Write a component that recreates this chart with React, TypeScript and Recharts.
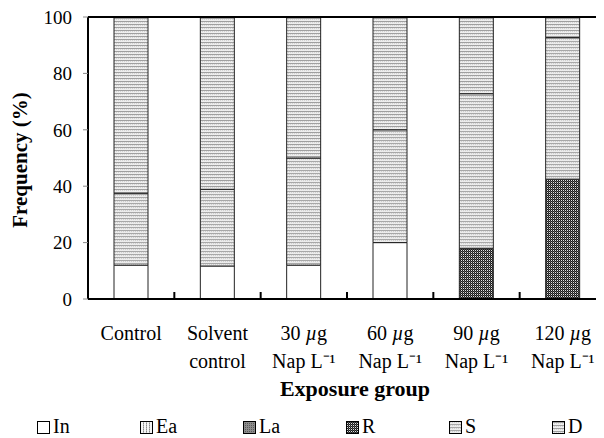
import React from 'react';
import { BarChart, Bar, XAxis, YAxis, ReferenceLine, Legend } from 'recharts';

const categories = ['Control', 'Solvent control', '30 µg Nap L⁻¹', '60 µg Nap L⁻¹', '90 µg Nap L⁻¹', '120 µg Nap L⁻¹'];
const tickLine1 = ['Control', 'Solvent', '30 µg', '60 µg', '90 µg', '120 µg'];
const tickLine2 = ['', 'control', 'Nap L⁻¹', 'Nap L⁻¹', 'Nap L⁻¹', 'Nap L⁻¹'];
const yTicks = [0, 20, 40, 60, 80, 100];

const seriesNames = ['In', 'Ea', 'La', 'R', 'S', 'D'];
const inVals = [12, 11.7, 12, 20, 0, 0];
const eaVals = [0, 0, 0, 0, 0, 0];
const laVals = [0, 0, 0, 0, 0, 0];
const rVals = [0, 0, 0, 0, 18, 42.5];
const sVals = [25.5, 27.2, 38, 40, 54.8, 50.2];
const dVals = [62.5, 61.1, 50, 40, 27.2, 7.3];

const data = categories.map((group, i) => ({
  group,
  In: inVals[i],
  Ea: eaVals[i],
  La: laVals[i],
  R: rVals[i],
  S: sVals[i],
  D: dVals[i],
}));

const FONT = 'Liberation Serif';
const CHART_W = 604;
const CHART_H = 430;
const MARGIN = { top: 9, right: 6, left: 0, bottom: 0 };
const Y_AXIS_W = 80;
const X_AXIS_H = 110;
const LEGEND_H = 29;
const PLOT_LEFT = MARGIN.left + Y_AXIS_W;
const PLOT_W = CHART_W - MARGIN.left - MARGIN.right - Y_AXIS_W;
const PLOT_BOTTOM = CHART_H - MARGIN.bottom - LEGEND_H - X_AXIS_H;

function PatternDef({ id, kind }: { id: string; kind: string }) {
  switch (kind) {
    case 'Ea':
      return (
        <pattern id={id} width={3} height={2} patternUnits="userSpaceOnUse">
          <rect width={3} height={2} fill="#f4f4f4" />
          <rect x={0} y={0} width={1} height={1} fill="#8a8a8a" />
          <rect x={0} y={1} width={1} height={1} fill="#b8b8b8" />
        </pattern>
      );
    case 'La':
      return (
        <pattern id={id} width={2} height={2} patternUnits="userSpaceOnUse">
          <rect width={2} height={2} fill="#8c8c8c" />
          <rect x={0} y={0} width={1} height={1} fill="#5a5a5a" />
        </pattern>
      );
    case 'R':
      return (
        <pattern id={id} width={2} height={2} patternUnits="userSpaceOnUse">
          <rect width={2} height={2} fill="#1a1a1a" />
          <rect x={1} y={0} width={1} height={1} fill="#e0e0e0" />
          <rect x={0} y={1} width={1} height={1} fill="#555" />
        </pattern>
      );
    case 'S':
      return (
        <pattern id={id} width={2} height={3} patternUnits="userSpaceOnUse">
          <rect width={2} height={3} fill="#ececec" />
          <rect x={0} y={0} width={2} height={1} fill="#a8a8a8" />
          <rect x={1} y={1} width={1} height={1} fill="#d0d0d0" />
        </pattern>
      );
    case 'D':
      return (
        <pattern id={id} width={2} height={3} patternUnits="userSpaceOnUse">
          <rect width={2} height={3} fill="#eeeeee" />
          <rect x={0} y={1} width={2} height={1} fill="#a0a0a0" />
          <rect x={0} y={2} width={1} height={1} fill="#d4d4d4" />
        </pattern>
      );
    default:
      return null;
  }
}

const fillFor = (kind: string, prefix: string) => (kind === 'In' ? '#ffffff' : `url(#${prefix}-${kind})`);

function XTick(props: any) {
  const { x, y, payload } = props;
  const idx = categories.indexOf(payload.value);
  const l1 = tickLine1[idx] || '';
  const l2 = tickLine2[idx] || '';
  const renderL1 = () => {
    const m = l1.indexOf('µ');
    if (m < 0) return l1;
    return (
      <>
        {l1.slice(0, m)}
        <tspan fontStyle="italic">µ</tspan>
        {l1.slice(m + 1)}
      </>
    );
  };
  return (
    <g transform={`translate(${x},${y})`}>
      <text x={0} y={41} textAnchor="middle" fontFamily={FONT} fontSize={20} fill="#000">
        {renderL1()}
      </text>
      {l2 ? (
        <text x={0} y={69} textAnchor="middle" fontFamily={FONT} fontSize={20} fill="#000">
          {l2}
        </text>
      ) : null}
    </g>
  );
}

function XLabel(props: any) {
  const vb = props.viewBox || { x: 80, y: 291, width: 518, height: 110 };
  return (
    <text
      x={vb.x + vb.width / 2 + 8}
      y={vb.y + 97}
      textAnchor="middle"
      fontFamily={FONT}
      fontSize={22}
      fontWeight="bold"
      fill="#000"
    >
      Exposure group
    </text>
  );
}

function YLabel(props: any) {
  const vb = props.viewBox || { x: 0, y: 9, width: 80, height: 282 };
  const cx = vb.x + 19;
  const cy = vb.y + vb.height / 2 + 2;
  return (
    <text
      x={cx}
      y={cy}
      transform={`rotate(-90, ${cx}, ${cy})`}
      textAnchor="middle"
      fontFamily={FONT}
      fontSize={21}
      fontWeight="bold"
      fill="#000"
    >
      Frequency (%)
    </text>
  );
}

function LegendContent() {
  return (
    <div
      style={{
        display: 'flex',
        alignItems: 'center',
        height: LEGEND_H,
        paddingLeft: 29,
        paddingTop: 4,
        boxSizing: 'border-box',
        fontFamily: FONT,
        fontSize: 20,
        color: '#000',
      }}
    >
      {seriesNames.map((name) => (
        <div key={name} style={{ width: 103, display: 'flex', alignItems: 'center', flex: '0 0 103px' }}>
          <svg width={13} height={13} style={{ marginRight: 3, marginTop: 3 }}>
            <defs>
              <PatternDef id={`lg-${name}`} kind={name} />
            </defs>
            <rect x={0.5} y={0.5} width={12} height={12} fill={fillFor(name, 'lg')} stroke="#000" strokeWidth={1} />
          </svg>
          <span style={{ lineHeight: '20px' }}>{name}</span>
        </div>
      ))}
    </div>
  );
}

const band = PLOT_W / categories.length;
const boundaryIdx = categories.slice(1).map((_, i) => i + 1);

export default function App() {
  return (
    <div style={{ width: 596, height: CHART_H, overflow: 'hidden', fontFamily: FONT }}>
      <BarChart
        width={CHART_W}
        height={CHART_H}
        data={data}
        margin={MARGIN}
        barSize={34}
        style={{ fontFamily: FONT }}
      >
        <defs>
          {seriesNames.map((n) => (
            <PatternDef key={n} id={`bar-${n}`} kind={n} />
          ))}
        </defs>
        <XAxis
          dataKey="group"
          interval={0}
          height={X_AXIS_H}
          tickLine={false}
          tickSize={0}
          tickMargin={0}
          axisLine={{ stroke: '#000', strokeWidth: 2 }}
          tick={<XTick />}
          label={<XLabel />}
        />
        <YAxis
          type="number"
          domain={[0, 100]}
          ticks={yTicks}
          interval={0}
          width={Y_AXIS_W}
          tickSize={5}
          tickMargin={11}
          tickLine={{ stroke: '#888', strokeWidth: 1 }}
          axisLine={{ stroke: '#000', strokeWidth: 2 }}
          tick={{ fill: '#000', fontSize: 19, fontFamily: FONT }}
          label={<YLabel />}
        />
        <ReferenceLine y={100} stroke="#000" strokeWidth={2} />
        {seriesNames.map((n) => (
          <Bar
            key={n}
            dataKey={n}
            name={n}
            stackId="a"
            fill={fillFor(n, 'bar')}
            stroke="#222"
            strokeWidth={1}
            isAnimationActive={false}
          />
        ))}
        <g className="boundary-ticks">
          {boundaryIdx.map((k) => (
            <line
              key={k}
              x1={PLOT_LEFT + k * band}
              x2={PLOT_LEFT + k * band}
              y1={PLOT_BOTTOM - 1}
              y2={PLOT_BOTTOM - 7}
              stroke="#000"
              strokeWidth={2}
            />
          ))}
        </g>
        <Legend
          content={<LegendContent />}
          wrapperStyle={{ width: 596, height: LEGEND_H, left: 0, bottom: 0 }}
        />
      </BarChart>
    </div>
  );
}
